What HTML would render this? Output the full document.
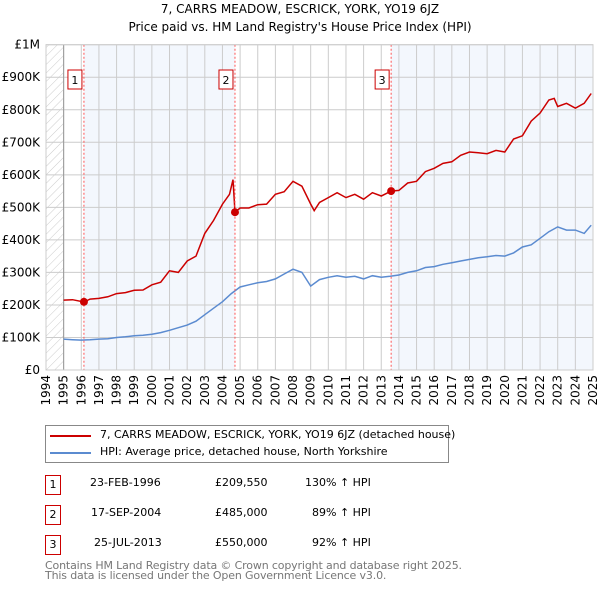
<!DOCTYPE html>
<html><head><meta charset="utf-8"><style>
body{margin:0;background:#fff;font-family:"DejaVu Sans","Liberation Sans",sans-serif;}
#wrap{position:relative;width:600px;height:590px;overflow:hidden;}
.t{position:absolute;font-size:11px;color:#000;white-space:nowrap;}
.box{position:absolute;width:14px;height:18px;border:1px solid #c00;font-size:11px;text-align:center;line-height:18px;}
</style></head><body><div id="wrap">
<svg id="chart" width="600" height="420" style="position:absolute;left:0;top:0">
<defs><pattern id="hatch" width="6" height="6" patternUnits="userSpaceOnUse" patternTransform="rotate(45)"><line x1="0" y1="0" x2="0" y2="6" stroke="#ccc" stroke-width="1"/></pattern></defs>
<text x="300" y="13" text-anchor="middle" font-size="12">7, CARRS MEADOW, ESCRICK, YORK, YO19 6JZ</text>
<text x="300" y="31" text-anchor="middle" font-size="12">Price paid vs. HM Land Registry's House Price Index (HPI)</text>
<g id="plot"></g>
</svg>
<div style="position:absolute;left:45px;top:425px;width:402px;height:36px;border:1px solid #888">
<div style="position:absolute;left:4px;top:9px;width:41px;height:2px;background:#c00"></div>
<div class="t" style="left:54px;top:2px">7, CARRS MEADOW, ESCRICK, YORK, YO19 6JZ (detached house)</div>
<div style="position:absolute;left:4px;top:26px;width:41px;height:2px;background:#5b8bd0"></div>
<div class="t" style="left:54px;top:19px">HPI: Average price, detached house, North Yorkshire</div>
</div>
<div class="box" style="left:45px;top:475px">1</div>
<div class="t" style="left:90px;top:476px">23-FEB-1996</div>
<div class="t" style="left:215px;top:476px">£209,550</div>
<div class="t" style="left:305px;top:476px">130% ↑ HPI</div>
<div class="box" style="left:45px;top:505px">2</div>
<div class="t" style="left:91px;top:506px">17-SEP-2004</div>
<div class="t" style="left:215px;top:506px">£485,000</div>
<div class="t" style="left:312px;top:506px">89% ↑ HPI</div>
<div class="box" style="left:45px;top:535px">3</div>
<div class="t" style="left:94px;top:536px">25-JUL-2013</div>
<div class="t" style="left:215px;top:536px">£550,000</div>
<div class="t" style="left:312px;top:536px">92% ↑ HPI</div>
<div class="t" style="left:45px;top:561px;color:#777;line-height:10px;letter-spacing:-0.15px">Contains HM Land Registry data © Crown copyright and database right 2025.<br>This data is licensed under the Open Government Licence v3.0.</div>
</div>
<script>
const yTicks=[0,100,200,300,400,500,600,700,800,900,1000];
const yTickLabels=["£0","£100K","£200K","£300K","£400K","£500K","£600K","£700K","£800K","£900K","£1M"];
const xYears=[1994,1995,1996,1997,1998,1999,2000,2001,2002,2003,2004,2005,2006,2007,2008,2009,2010,2011,2012,2013,2014,2015,2016,2017,2018,2019,2020,2021,2022,2023,2024,2025];
const saleYears=[1996.15,2004.71,2013.56];
const salePrices=[209.55,485,550];
const hpiT=[1995,1995.5,1996,1996.5,1997,1997.5,1998,1998.5,1999,1999.5,2000,2000.5,2001,2001.5,2002,2002.5,2003,2003.5,2004,2004.5,2005,2005.5,2006,2006.5,2007,2007.5,2008,2008.5,2009,2009.5,2010,2010.5,2011,2011.5,2012,2012.5,2013,2013.5,2014,2014.5,2015,2015.5,2016,2016.5,2017,2017.5,2018,2018.5,2019,2019.5,2020,2020.5,2021,2021.5,2022,2022.5,2023,2023.5,2024,2024.5,2024.9];
const hpiV=[95,93,92,93,95,96,100,102,105,107,110,115,122,130,138,150,170,190,210,235,255,262,268,272,280,295,310,300,258,278,285,290,285,288,280,290,285,288,292,300,305,315,318,325,330,335,340,345,348,352,350,360,378,385,405,425,440,430,430,420,445];
const redT=[1995,1995.5,1996.15,1996.5,1997,1997.5,1998,1998.5,1999,1999.5,2000,2000.5,2001,2001.5,2002,2002.5,2003,2003.5,2004,2004.4,2004.6,2004.71,2005,2005.5,2006,2006.5,2007,2007.5,2008,2008.5,2009,2009.2,2009.5,2010,2010.5,2011,2011.5,2012,2012.5,2013,2013.56,2014,2014.5,2015,2015.5,2016,2016.5,2017,2017.5,2018,2018.5,2019,2019.5,2020,2020.5,2021,2021.5,2022,2022.5,2022.8,2023,2023.5,2024,2024.5,2024.9];
const redV=[215,216,209,218,220,225,235,238,245,246,262,270,305,300,335,350,420,460,510,540,585,485,498,498,508,510,540,548,580,565,510,490,515,530,545,530,540,525,545,535,550,552,575,580,610,620,635,640,660,670,668,665,675,670,710,720,765,790,830,835,810,820,805,820,850];
const X0=46,X1=593,Y0=370,Y1=44.7,xMin=1994,xMax=2025;
const xs=v=>X0+(v-xMin)/(xMax-xMin)*(X1-X0);
const ys=v=>Y0-v/1000*(Y0-Y1);
const g=document.getElementById('plot');
const NS='http://www.w3.org/2000/svg';
function mk(tag,at){const e=document.createElementNS(NS,tag);for(const k in at)e.setAttribute(k,at[k]);g.appendChild(e);return e;}
let e=mk('rect',{x:X0,y:Y1,width:X1-X0,height:Y0-Y1,fill:'#fff'});


e=mk('rect',{x:X0,y:Y1,width:xs(1995)-X0,height:Y0-Y1,fill:'url(#hatch)'});


e=mk('rect',{x:xs(saleYears[0]),y:Y1,width:xs(saleYears[1])-xs(saleYears[0]),height:Y0-Y1,fill:'#eef3fc',opacity:0.7});


e=mk('rect',{x:xs(saleYears[2]),y:Y1,width:X1-xs(saleYears[2]),height:Y0-Y1,fill:'#eef3fc',opacity:0.7});


yTicks.forEach((v,i)=>{
 let l=mk('line',{x1:X0,x2:X1,y1:ys(v),y2:ys(v),stroke:'#ccc'});
 
 
 let t=mk('text',{x:40,y:ys(v)+4,'text-anchor':'end','font-size':12});
 t.textContent=yTickLabels[i];
 
 
});
xYears.forEach(v=>{
 let l=mk('line',{x1:xs(v),x2:xs(v),y1:Y1,y2:Y0,stroke:'#ccc'});
 
 
 let t=mk('text',{x:0,y:0,'text-anchor':'end','font-size':12,transform:`translate(${xs(v)+4},375) rotate(-90)`});
 t.textContent=v;
 
 
});
e=mk('line',{x1:xs(1995),x2:xs(1995),y1:Y1,y2:Y0,stroke:'#999'});


e=mk('line',{x1:X1,x2:X1,y1:Y1,y2:Y0,stroke:'#999'});


function path(T,V){return T.map((t,i)=>(i?'L':'M')+xs(t).toFixed(1)+','+ys(V[i]).toFixed(1)).join('');}
e=mk('path',{d:path(hpiT,hpiV),fill:'none',stroke:'#5b8bd0','stroke-width':1.5});


e=mk('path',{d:path(redT,redV),fill:'none',stroke:'#c00','stroke-width':1.5});


saleYears.forEach((s,i)=>{
 let l=mk('line',{x1:xs(s),x2:xs(s),y1:Y1,y2:Y0,stroke:'#f55','stroke-dasharray':'2,2'});
 
 
 let c=mk('circle',{cx:xs(s),cy:ys(salePrices[i]),r:4,fill:'#c00'});
 
 
 let r=mk('rect',{x:xs(s)-16,y:70,width:14,height:19,fill:'#fff',stroke:'#c00'});
 
 
 let t=mk('text',{x:xs(s)-9,y:84,'text-anchor':'middle','font-size':11});
 t.textContent=i+1;
 
 
});
e=mk('rect',{x:X0,y:Y1,width:X1-X0,height:Y0-Y1,fill:'none',stroke:'#ccc'});


</script>
</body></html>
